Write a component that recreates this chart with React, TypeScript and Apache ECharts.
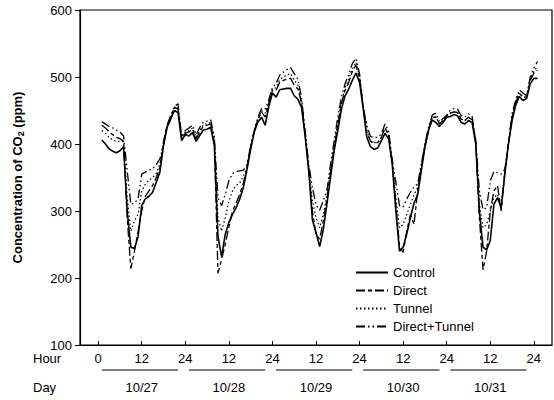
import React, { useEffect, useRef } from "react";
import * as echarts from "echarts";

// Hours since 10/27 00:00
const hours: number[] = Array.from({ length: 121 }, (_, i) => i + 1);

const days = ["10/27", "10/28", "10/29", "10/30", "10/31"];
const dayCenters = [12, 36, 60, 84, 108];
const hourTicks = [0, 12, 24, 36, 48, 60, 72, 84, 96, 108, 120];
const hourTickLabels = ["0", "12", "24", "12", "24", "12", "24", "12", "24", "12", "24"];

const control = [
  406, 400, 393, 389, 387, 390, 396, 300, 246, 244, 262, 308, 318, 322, 328, 343, 358, 398, 425, 437, 450, 447, 405, 414,
  412, 417, 404, 413, 421, 422, 425, 398, 262, 232, 265, 283, 295, 305, 318, 335, 362, 392, 418, 433, 440, 428, 456, 476,
  470, 481, 482, 483, 483, 472, 467, 455, 412, 360, 287, 268, 247, 272, 310, 350, 390, 420, 452, 472, 482, 495, 506, 492,
  453, 410, 396, 392, 394, 405, 416, 408, 370, 300, 240, 246, 266, 290, 312, 324, 360, 395, 420, 436, 432, 426, 432, 440,
  441, 444, 442, 432, 430, 435, 432, 400, 300, 246, 242, 256, 310, 320, 305, 355, 400, 435, 458, 471, 465, 468, 490, 498, 498,
];

const direct = [
  428, 424, 418, 414, 410, 408, 404, 290, 214, 240, 270, 300, 322, 330, 338, 350, 365, 404, 428, 440, 455, 452, 408, 416,
  418, 422, 408, 418, 427, 428, 430, 404, 207, 228, 250, 276, 300, 312, 325, 342, 365, 395, 420, 436, 448, 440, 460, 480,
  480, 492, 495, 497, 498, 488, 482, 462, 415, 362, 300, 265, 258, 285, 318, 358, 395, 428, 460, 480, 492, 508, 518, 498,
  454, 418, 404, 402, 402, 410, 424, 414, 372, 310, 248, 238, 270, 295, 280, 330, 365, 398, 422, 440, 440, 430, 435, 442,
  446, 448, 447, 437, 435, 440, 436, 403, 290, 212, 240, 300, 330, 338, 300, 358, 400, 440, 462, 476, 470, 470, 495, 506, 510,
];

const tunnel = [
  420, 416, 410, 406, 404, 404, 404, 320, 270, 285, 295, 330, 340, 346, 350, 356, 370, 400, 426, 440, 453, 455, 410, 418,
  420, 424, 410, 420, 429, 430, 432, 406, 290, 270, 290, 315, 330, 338, 342, 352, 366, 396, 420, 438, 450, 446, 462, 482,
  484, 496, 500, 503, 505, 495, 488, 464, 418, 365, 315, 290, 275, 295, 322, 362, 398, 432, 462, 484, 496, 512, 522, 500,
  454, 420, 404, 402, 402, 410, 424, 414, 373, 320, 275, 280, 295, 310, 324, 335, 366, 398, 423, 440, 440, 430, 435, 442,
  446, 448, 447, 437, 435, 440, 436, 404, 310, 275, 280, 300, 320, 325, 305, 358, 400, 442, 462, 476, 470, 470, 496, 508, 516,
];

const directTunnel = [
  433, 430, 426, 424, 421, 418, 412, 360, 310, 312, 318, 355, 358, 361, 363, 369, 378, 398, 428, 443, 456, 460, 411, 420,
  424, 428, 414, 425, 433, 434, 436, 410, 320, 308, 325, 345, 356, 359, 360, 361, 369, 398, 420, 440, 453, 452, 466, 485,
  490, 503, 507, 511, 514, 505, 497, 470, 420, 370, 335, 310, 301, 315, 330, 370, 405, 440, 470, 490, 503, 520, 528, 505,
  455, 428, 411, 410, 410, 415, 430, 420, 376, 343, 308, 306, 318, 328, 336, 341, 370, 400, 425, 443, 446, 433, 438, 443,
  451, 453, 452, 442, 440, 445, 441, 406, 330, 302, 305, 345, 359, 357, 355, 362, 400, 446, 465, 481, 476, 472, 500, 513, 523,
];

const seriesDefs = [
  { name: "Control", values: control, type: "solid" as any, width: 1.6 },
  { name: "Direct", values: direct, type: [9, 3, 4, 3] as any, width: 1.3 },
  { name: "Tunnel", values: tunnel, type: [1.5, 2.5] as any, width: 1.2 },
  { name: "Direct+Tunnel", values: directTunnel, type: [9, 3, 1.5, 3, 1.5, 3] as any, width: 1.3 },
];

const FONT = "'Liberation Sans', Arial, sans-serif";

export default function App() {
  const ref = useRef<HTMLDivElement>(null);

  useEffect(() => {
    if (!ref.current) return;
    const chart = echarts.init(ref.current, null, { renderer: "svg" });
    const option: any = {
      animation: false,
      backgroundColor: "#fff",
      textStyle: { fontFamily: FONT, color: "#000" },
      grid: {
        left: 80,
        right: 2,
        top: 10,
        bottom: 55,
        show: true,
        borderColor: "#000",
        borderWidth: 1.2,
      },
      legend: {
        orient: "vertical",
        left: 350,
        top: 261,
        itemWidth: 32,
        itemHeight: 10,
        itemGap: 5,
        itemStyle: { opacity: 0 },
        textStyle: { fontSize: 13, color: "#000", fontFamily: FONT },
        data: seriesDefs.map((s) => s.name),
      },
      xAxis: [
        {
          type: "value",
          min: -5,
          max: 125,
          axisLine: { show: true, onZero: false, lineStyle: { color: "#000", width: 1.2 } },
          axisTick: {
            show: true,
            inside: true,
            length: 4,
            customValues: hourTicks,
            lineStyle: { color: "#000" },
          },
          axisLabel: {
            show: true,
            margin: 7,
            fontSize: 13,
            color: "#000",
            fontFamily: FONT,
            customValues: hourTicks,
            formatter: (v: number) => hourTickLabels[hourTicks.indexOf(v)] ?? "",
          },
          splitLine: { show: false },
        },
        {
          type: "value",
          position: "bottom",
          offset: 29,
          min: -5,
          max: 125,
          axisLine: { show: false, onZero: false },
          axisTick: { show: false },
          splitLine: { show: false },
          axisLabel: {
            show: true,
            margin: 7,
            fontSize: 13,
            color: "#000",
            fontFamily: FONT,
            customValues: dayCenters,
            formatter: (v: number) => days[dayCenters.indexOf(v)] ?? "",
          },
        },
      ],
      yAxis: {
        type: "value",
        min: 100,
        max: 600,
        interval: 100,
        name: "Concentration of CO{sub|2} (ppm)",
        nameLocation: "middle",
        nameGap: 55,
        nameTextStyle: {
          fontSize: 13,
          fontWeight: "bold",
          color: "#000",
          fontFamily: FONT,
          rich: {
            sub: { fontSize: 9, fontWeight: "bold", verticalAlign: "bottom", padding: [6, 0, 0, 0], fontFamily: FONT },
          },
        },
        axisLine: { show: true, onZero: false, lineStyle: { color: "#000", width: 1.2 } },
        axisTick: { show: true, inside: false, length: 5, lineStyle: { color: "#000" } },
        axisLabel: { fontSize: 13, color: "#000", margin: 8, fontFamily: FONT },
        splitLine: { show: false },
      },
      series: seriesDefs.map((s) => ({
        name: s.name,
        type: "line",
        xAxisIndex: 0,
        symbol: "none",
        smooth: false,
        data: hours.map((h, i) => [h, s.values[i]]),
        lineStyle: { color: "#000", width: s.width, type: s.type },
        itemStyle: { color: "#000" },
      })),
      graphic: [
        { type: "text", left: 33, top: 352, style: { text: "Hour", fontSize: 13, fill: "#000", fontFamily: FONT } },
        { type: "text", left: 33, top: 381, style: { text: "Day", fontSize: 13, fill: "#000", fontFamily: FONT } },
      ],
    };
    chart.setOption(option);

    // day underlines, placed with the axis scale
    const lines = days.map((_, i) => {
      const x1 = chart.convertToPixel({ xAxisIndex: 0 }, dayCenters[i] - 11) as number;
      const x2 = chart.convertToPixel({ xAxisIndex: 0 }, dayCenters[i] + 10) as number;
      return {
        type: "line",
        shape: { x1, y1: 370, x2, y2: 370 },
        style: { stroke: "#000", lineWidth: 1.2 },
      };
    });
    chart.setOption({ graphic: [...option.graphic, ...lines] });

    return () => chart.dispose();
  }, []);

  return (
    <div
      ref={ref}
      style={{ position: "fixed", left: 0, top: 0, width: 554, height: 400, background: "#fff" }}
    />
  );
}
